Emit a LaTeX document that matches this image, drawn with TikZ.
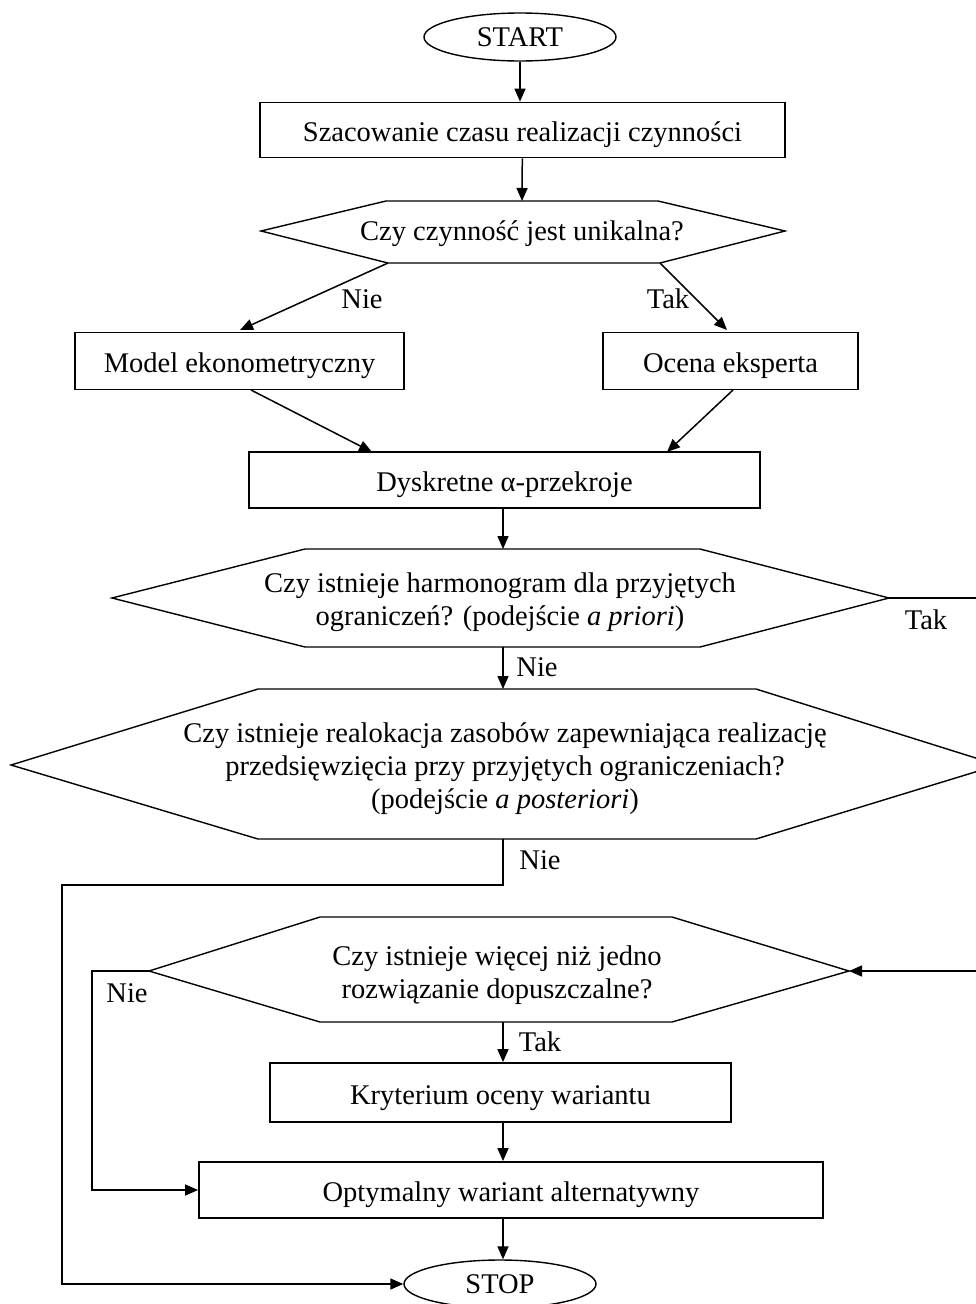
\documentclass[tikz,border=0pt]{standalone}
\usepackage{fontspec}
\setmainfont{Liberation Serif}
\usetikzlibrary{arrows.meta,shapes.geometric}
\begin{document}
\begin{tikzpicture}[x=1pt,y=-1pt,
  every node/.style={font=\fontsize{28.5}{33}\selectfont},
  box/.style={draw,line width=1.8pt,inner sep=0pt,align=center,text height=23pt,text depth=0pt},
  term/.style={draw,ellipse,line width=1.4pt,inner sep=0pt,minimum width=192pt,minimum height=48pt},
  lbl/.style={inner sep=0pt,align=center},
  conn/.style={line width=1.5pt},
  arr/.style={conn,-{Triangle[length=13pt,width=11pt]}},
  hexline/.style={line width=1.4pt,line join=miter}]
\useasboundingbox (0,0) rectangle (975,1304);

% terminals and boxes
\node[term] (start) at (520,37) {START};
\node[box,minimum width=525pt,minimum height=55pt] (b1) at (522.5,130) {Szacowanie czasu realizacji czynności};
\node[box,minimum width=329pt,minimum height=57pt] (model) at (239.5,361) {Model ekonometryczny};
\node[box,minimum width=255pt,minimum height=57pt] (ocena) at (730.5,361) {Ocena eksperta};
\node[box,minimum width=511pt,minimum height=56pt] (dysk) at (504.5,480) {Dyskretne α-przekroje};
\node[box,minimum width=461pt,minimum height=59pt] (kryt) at (500.5,1092.5) {Kryterium oceny wariantu};
\node[box,minimum width=624pt,minimum height=56pt] (opt) at (511,1190) {Optymalny wariant alternatywny};
\node[term] (stop) at (500,1284) {STOP};

% hexagon 0
\coordinate (h0tl) at (386,201); \coordinate (h0tr) at (658,201);
\coordinate (h0r) at (785,231); \coordinate (h0br) at (660,263);
\coordinate (h0bl) at (388,263); \coordinate (h0l) at (261,231);
\coordinate (h0t) at (522,201);
\draw[hexline] (h0tl) -- (h0tr) -- (h0r) -- (h0br) -- (h0bl) -- (h0l) -- cycle;
\node[lbl] (q0) at (522,234) {Czy czynność jest unikalna?};

% hexagon 1
\coordinate (h1tl) at (305,549); \coordinate (h1tr) at (700,549);
\coordinate (h1r) at (889,598); \coordinate (h1br) at (700,647);
\coordinate (h1bl) at (305,647); \coordinate (h1l) at (112,598);
\coordinate (h1t) at (503,549); \coordinate (h1b) at (503,647);
\draw[hexline] (h1tl) -- (h1tr) -- (h1r) -- (h1br) -- (h1bl) -- (h1l) -- cycle;
\node[lbl] (q1) at (500,602) {Czy istnieje harmonogram dla przyjętych\\ograniczeń? (podejście \textit{a priori})};

% hexagon 2
\coordinate (h2tl) at (258,689); \coordinate (h2tr) at (756,689);
\coordinate (h2r) at (998,765); \coordinate (h2br) at (756,839);
\coordinate (h2bl) at (258,839); \coordinate (h2l) at (11,765);
\coordinate (h2t) at (503,689); \coordinate (h2b) at (503,839);
\draw[hexline] (h2tl) -- (h2tr) -- (h2r) -- (h2br) -- (h2bl) -- (h2l) -- cycle;
\node[lbl] (q2) at (505,769) {Czy istnieje realokacja zasobów zapewniająca realizację\\przedsięwzięcia przy przyjętych ograniczeniach?\\(podejście \textit{a posteriori})};

% hexagon 3
\coordinate (h3tl) at (320,917); \coordinate (h3tr) at (672,917);
\coordinate (h3r) at (849,971); \coordinate (h3br) at (672,1022);
\coordinate (h3bl) at (320,1022); \coordinate (h3l) at (149,971);
\coordinate (h3b) at (503,1022);
\draw[hexline] (h3tl) -- (h3tr) -- (h3r) -- (h3br) -- (h3bl) -- (h3l) -- cycle;
\node[lbl] (q3) at (497,975) {Czy istnieje więcej niż jedno\\rozwiązanie dopuszczalne?};

% connectors
\draw[arr] (start) -- (start |- b1.north);
\draw[arr] (b1) -- (h0t);
\draw[arr] (h0bl) -- (240,330);
\draw[arr] (h0br) -- (727,330);
\draw[arr] (251,390) -- (372,452);
\draw[arr] (733,390) -- (667,452);
\draw[arr] (dysk.south -| h1t) -- (h1t);
\draw[arr] (h1b) -- (h2t);
\coordinate (c1) at (503,885);
\coordinate (c2) at (62,885);
\draw[arr] (h2b) -- (c1) -- (c2) |- (stop.west);
\coordinate (c3) at (1000,598);
\coordinate (c4) at (1000,971);
\draw[arr] (h1r) -- (c3) -- (c4) -- (h3r);
\coordinate (c5) at (92,971);
\draw[arr] (h3l) -- (c5) |- (opt.west);
\draw[arr] (h3b) -- (kryt.north -| h3b);
\draw[arr] (kryt.south -| h3b) -- (opt.north -| h3b);
\draw[arr] (opt.south -| h3b) -- (stop.north -| h3b);

% labels
\node[lbl] (l1) at (362,299) {Nie};
\node[lbl] (l2) at (668,299) {Tak};
\node[lbl] (l3) at (926,620) {Tak};
\node[lbl] (l4) at (537,667) {Nie};
\node[lbl] (l5) at (540,860) {Nie};
\node[lbl] (l6) at (127,993) {Nie};
\node[lbl] (l7) at (540,1042) {Tak};
\end{tikzpicture}
\end{document}
